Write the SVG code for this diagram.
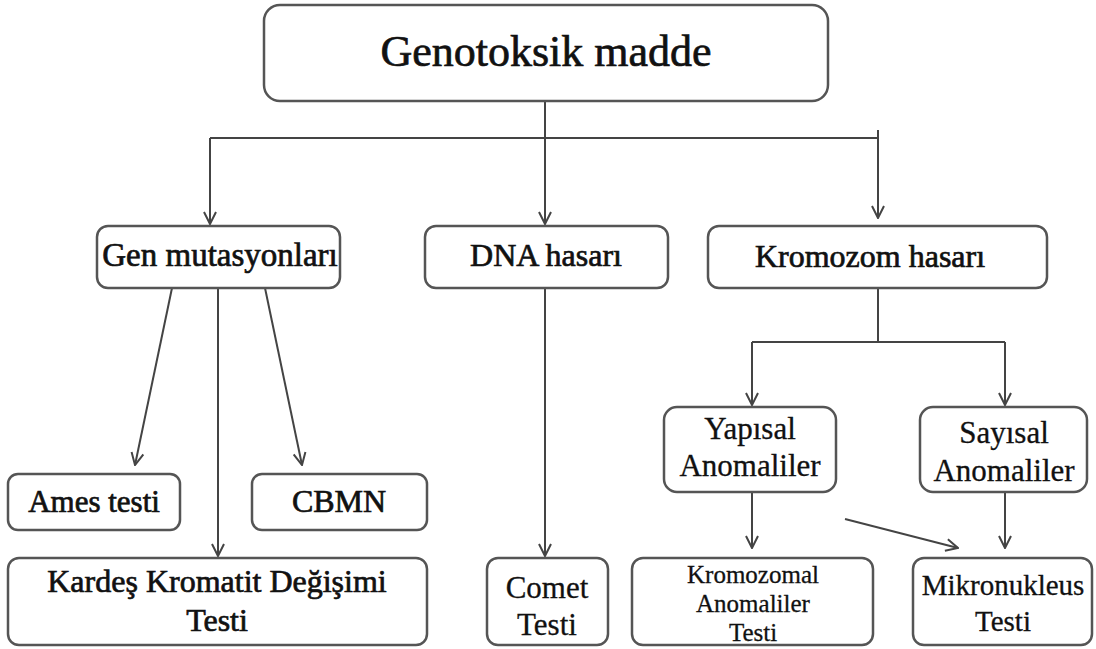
<svg xmlns="http://www.w3.org/2000/svg" width="1096" height="649" viewBox="0 0 1096 649">
<style>
.box{fill:#fff;stroke:#555;stroke-width:2.5}
.b{font-family:"Liberation Serif",serif;fill:#111;stroke:#111;stroke-width:0.7;text-anchor:middle}
.r{font-family:"Liberation Serif",serif;fill:#111;stroke:#111;stroke-width:0.3;text-anchor:middle}
.c{fill:none;stroke:#444;stroke-width:2}
</style>
<defs>
<marker id="ah" viewBox="0 0 14 14" refX="13" refY="7" markerWidth="14" markerHeight="14" markerUnits="userSpaceOnUse" orient="auto">
<path d="M1,1 L13,7 L1,13" fill="none" stroke="#444" stroke-width="2"/>
</marker>
</defs>
<rect width="1096" height="649" fill="#fff"/>
<g id="connectors">
<path class="c" d="M545,101 V138"/>
<path class="c" d="M210,138 H878"/>
<path class="c" d="M210,138 V224" marker-end="url(#ah)"/>
<path class="c" d="M545,138 V224" marker-end="url(#ah)"/>
<path class="c" d="M878,130 V218" marker-end="url(#ah)"/>
<path class="c" d="M172,288 L135,465" marker-end="url(#ah)"/>
<path class="c" d="M218,288 V556" marker-end="url(#ah)"/>
<path class="c" d="M265,288 L302,465" marker-end="url(#ah)"/>
<path class="c" d="M545,288 V556" marker-end="url(#ah)"/>
<path class="c" d="M878,288 V342"/>
<path class="c" d="M752,342 H1005"/>
<path class="c" d="M752,342 V405" marker-end="url(#ah)"/>
<path class="c" d="M1005,342 V405" marker-end="url(#ah)"/>
<path class="c" d="M752,492 V548" marker-end="url(#ah)"/>
<path class="c" d="M845,519 L958,548" marker-end="url(#ah)"/>
<path class="c" d="M1005,492 V548" marker-end="url(#ah)"/>
</g>
<g id="n-genotoksik">
<rect class="box" x="264" y="5" width="564" height="96" rx="16"/>
<text class="b" x="546" y="66" font-size="44">Genotoksik madde</text>
</g>
<g id="n-gen">
<rect class="box" x="97" y="226" width="243" height="62" rx="11"/>
<text class="b" x="220" y="266" font-size="33">Gen mutasyonları</text>
</g>
<g id="n-dna">
<rect class="box" x="425" y="226" width="243" height="62" rx="11"/>
<text class="b" x="546" y="266" font-size="32">DNA hasarı</text>
</g>
<g id="n-kromozom">
<rect class="box" x="708" y="226" width="339" height="62" rx="11"/>
<text class="b" x="870" y="267" font-size="32">Kromozom hasarı</text>
</g>
<g id="n-ames">
<rect class="box" x="8" y="474" width="172" height="56" rx="10"/>
<text class="b" x="94" y="512" font-size="31">Ames testi</text>
</g>
<g id="n-cbmn">
<rect class="box" x="252" y="474" width="175" height="56" rx="10"/>
<text class="b" x="339" y="512" font-size="32">CBMN</text>
</g>
<g id="n-kardes">
<rect class="box" x="8" y="558" width="419" height="87" rx="11"/>
<text class="b" x="217" y="592" font-size="32">Kardeş Kromatit Değişimi</text>
<text class="b" x="217" y="631" font-size="32">Testi</text>
</g>
<g id="n-comet">
<rect class="box" x="487" y="558" width="121" height="87" rx="11"/>
<text class="r" x="547" y="598" font-size="31">Comet</text>
<text class="r" x="547" y="635" font-size="31">Testi</text>
</g>
<g id="n-yapisal">
<rect class="box" x="664" y="407" width="172" height="85" rx="13"/>
<text class="r" x="750" y="439" font-size="31">Yapısal</text>
<text class="r" x="750" y="476" font-size="31">Anomaliler</text>
</g>
<g id="n-sayisal">
<rect class="box" x="920" y="407" width="167" height="85" rx="13"/>
<text class="r" x="1004" y="443" font-size="31">Sayısal</text>
<text class="r" x="1004" y="481" font-size="31">Anomaliler</text>
</g>
<g id="n-kromozomal">
<rect class="box" x="632" y="558" width="241" height="87" rx="11"/>
<text class="r" x="753" y="583" font-size="25">Kromozomal</text>
<text class="r" x="753" y="612" font-size="25">Anomaliler</text>
<text class="r" x="753" y="641" font-size="25">Testi</text>
</g>
<g id="n-mikronukleus">
<rect class="box" x="913" y="558" width="179" height="87" rx="11"/>
<text class="r" x="1003" y="595" font-size="29">Mikronukleus</text>
<text class="r" x="1003" y="631" font-size="29">Testi</text>
</g>
</svg>
